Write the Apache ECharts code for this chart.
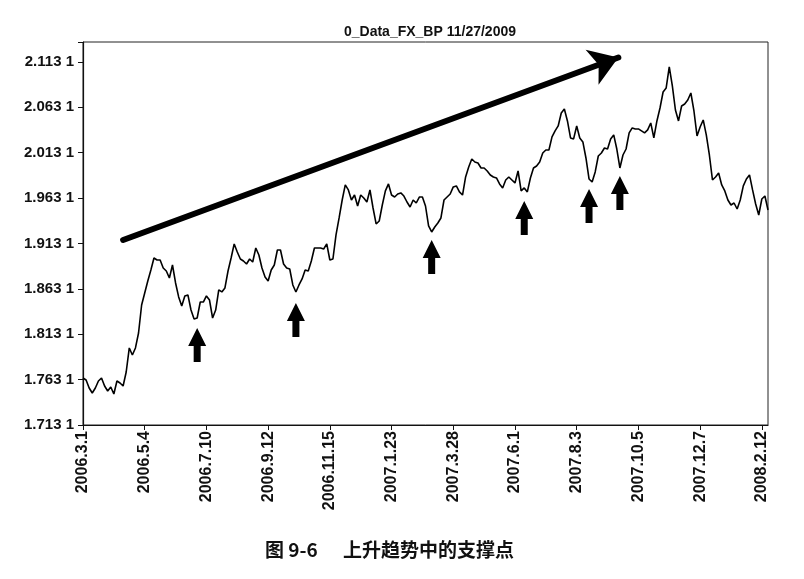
<!DOCTYPE html>
<html>
  <head>
    <meta charset="utf-8" />
    <title>0_Data_FX_BP</title>
    <script src="https://cdn.jsdelivr.net/npm/echarts@6/dist/echarts.min.js"></script>
    <style>
      html, body { margin: 0; padding: 0; background: #fff; }
    </style>
  </head>
  <body>
    <div id="main" style="width: 804px;height:579px;"></div>
    <script type="text/javascript">
// tick labels along the date axis, one every 20 points
const tickLabels = ['2006.3.1', '2006.5.4', '2006.7.10', '2006.9.12', '2006.11.15', '2007.1.23',
  '2007.3.28', '2007.6.1', '2007.8.3', '2007.10.5', '2007.12.7', '2008.2.12'];
const pointsPerLabel = 20;

// GBP/USD close
const rates = [
  1.7649, 1.7627, 1.7539, 1.7484, 1.7539, 1.7616, 1.7649, 1.7561, 1.7506, 1.7550,
  1.7473, 1.7616, 1.7594, 1.7561, 1.7715, 1.7980, 1.7902, 1.7980, 1.8145, 1.8453,
  1.8586, 1.8718, 1.8839, 1.8971, 1.8949, 1.8949, 1.8861, 1.8828, 1.8751, 1.8894,
  1.8696, 1.8542, 1.8442, 1.8553, 1.8564, 1.8398, 1.8299, 1.8310, 1.8486, 1.8486,
  1.8553, 1.8508, 1.8310, 1.8398, 1.8619, 1.8597, 1.8641, 1.8828, 1.8971, 1.9126,
  1.9037, 1.8960, 1.8938, 1.8905, 1.8960, 1.8927, 1.9081, 1.9004, 1.8861, 1.8762,
  1.8718, 1.8839, 1.8894, 1.9059, 1.9059, 1.8905, 1.8861, 1.8850, 1.8674, 1.8597,
  1.8674, 1.8740, 1.8839, 1.8828, 1.8938, 1.9081, 1.9081, 1.9081, 1.9070, 1.9126,
  1.8949, 1.8960, 1.9225, 1.9412, 1.9610, 1.9776, 1.9721, 1.9610, 1.9665, 1.9544,
  1.9665, 1.9632, 1.9588, 1.9721, 1.9522, 1.9346, 1.9379, 1.9555, 1.9710, 1.9787,
  1.9665, 1.9643, 1.9676, 1.9688, 1.9654, 1.9588, 1.9533, 1.9610, 1.9577, 1.9643,
  1.9643, 1.9544, 1.9324, 1.9258, 1.9313, 1.9357, 1.9412, 1.9610, 1.9643, 1.9676,
  1.9754, 1.9765, 1.9699, 1.9665, 1.9864, 1.9974, 2.0062, 2.0029, 2.0018, 1.9963,
  1.9963, 1.9930, 1.9886, 1.9864, 1.9853, 1.9787, 1.9743, 1.9831, 1.9864, 1.9831,
  1.9798, 1.9930, 1.9710, 1.9743, 1.9699, 1.9853, 1.9963, 1.9985, 2.0029, 2.0128,
  2.0161, 2.0161, 2.0305, 2.0371, 2.0426, 2.0569, 2.0613, 2.0481, 2.0294, 2.0283,
  2.0426, 2.0294, 2.0250, 2.0073, 1.9842, 1.9809, 1.9919, 2.0095, 2.0128, 2.0183,
  2.0172, 2.0283, 2.0327, 2.0172, 1.9963, 2.0106, 2.0172, 2.0349, 2.0404, 2.0393,
  2.0393, 2.0371, 2.0349, 2.0382, 2.0459, 2.0294, 2.0481, 2.0624, 2.0800, 2.0845,
  2.1076, 2.0867, 2.0602, 2.0481, 2.0646, 2.0668, 2.0712, 2.0789, 2.0591, 2.0316,
  2.0415, 2.0492, 2.0327, 2.0106, 1.9831, 1.9864, 1.9908, 1.9776, 1.9710, 1.9610,
  1.9555, 1.9577, 1.9511, 1.9610, 1.9765, 1.9842, 1.9886, 1.9721, 1.9566, 1.9445,
  1.9621, 1.9654, 1.9500
];

// y axis
const yMin = 1.7131;
const yMax = 2.1351;
const yStep = 0.05;

// support points (arrow tips) and the trend arrow, in [index, rate]
const supportTips = [[37, 1.8200], [69, 1.8475], [113, 1.9170], [143, 1.9599], [164, 1.9732], [174, 1.9875]];
const trendFrom = [13, 1.9170];
const trendTo = [173.5, 2.1180];

const upArrow = 'path://M9,0 L18,18 L12.5,18 L12.5,34 L5.5,34 L5.5,18 L0,18 Z';

var chartDom = document.getElementById('main');
var myChart = echarts.init(chartDom);
var option;

const tickIdx = tickLabels.map((_, i) => i * pointsPerLabel);
const font = '"Liberation Sans", Arial, sans-serif';

option = {
  animation: false,
  title: {
    text: '0_Data_FX_BP 11/27/2009',
    left: 425,
    top: 20,
    textAlign: 'center',
    textStyle: { fontFamily: font, fontSize: 14, fontWeight: 'bold', color: '#111' }
  },
  grid: {
    left: 83,
    right: 36,
    top: 42,
    bottom: 154,
    show: true,
    borderColor: '#222',
    borderWidth: 1
  },
  xAxis: {
    type: 'value',
    min: 0,
    max: rates.length - 1,
    splitLine: { show: false },
    axisLine: { lineStyle: { color: '#111', width: 1.2 } },
    axisTick: { customValues: tickIdx, length: 5, lineStyle: { color: '#111' } },
    axisLabel: {
      customValues: tickIdx,
      rotate: 90,
      margin: 6,
      fontFamily: font,
      fontSize: 16,
      fontWeight: 'bold',
      color: '#111',
      formatter: v => tickLabels[Math.round(v / pointsPerLabel)] || ''
    }
  },
  yAxis: {
    type: 'value',
    min: yMin,
    max: yMax,
    interval: yStep,
    splitLine: { show: false },
    axisLine: { show: true, lineStyle: { color: '#111', width: 1.2 } },
    axisTick: { show: true, length: 5, lineStyle: { color: '#111' } },
    axisLabel: {
      margin: 9,
      fontFamily: font,
      fontSize: 15,
      fontWeight: 'bold',
      color: '#111',
      formatter: function (v) {
        const k = (v - yMin) / yStep;
        if (Math.abs(k - Math.round(k)) > 1e-6) return '';
        const s = v.toFixed(4);
        return s.slice(0, 5) + ' ' + s.slice(5);
      }
    }
  },
  series: [
    {
      name: 'FX_BP',
      type: 'line',
      data: rates.map((v, i) => [i, v]),
      symbol: 'none',
      lineStyle: { color: '#000', width: 1.6 },
      markLine: {
        silent: true,
        symbol: ['none', 'arrow'],
        symbolSize: 28,
        label: { show: false },
        lineStyle: { color: '#000', width: 6, type: 'solid', cap: 'round' },
        data: [[{ coord: trendFrom }, { coord: trendTo }]]
      },
      markPoint: {
        silent: true,
        symbol: upArrow,
        symbolSize: [18, 34],
        symbolOffset: [0, '50%'],
        itemStyle: { color: '#000' },
        label: { show: false },
        data: supportTips.map(c => ({ coord: c }))
      }
    }
  ],
  graphic: [
    {
      type: 'text',
      left: 265,
      top: 540,
      style: {
        text: '图 9-6',
        font: 'bold 19px "Noto Sans CJK SC", sans-serif',
        fill: '#111'
      }
    },
    {
      type: 'text',
      left: 343,
      top: 540,
      style: {
        text: '上升趋势中的支撑点',
        font: 'bold 19px "Noto Sans CJK SC", sans-serif',
        fill: '#111'
      }
    }
  ]
};

option && myChart.setOption(option);
    </script>
  </body>
</html>
